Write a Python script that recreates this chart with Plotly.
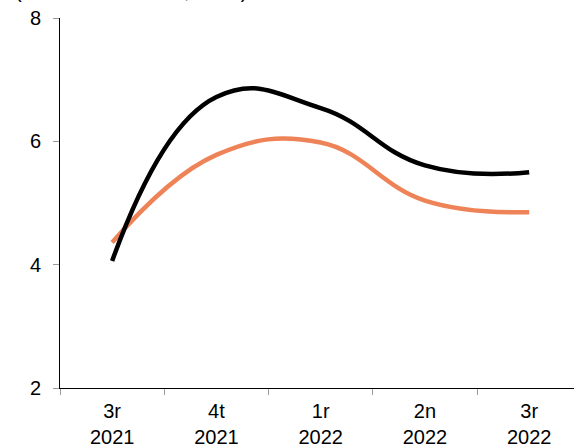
import plotly.graph_objects as go

categories = ["3r<br>2021", "4t<br>2021", "1r<br>2022", "2n<br>2022", "3r<br>2022"]
black_series = [4.06, 6.72, 6.54, 5.61, 5.50]
orange_series = [4.36, 5.78, 5.98, 5.04, 4.85]
y_ticks = [2, 4, 6, 8]
subtitle = "(variació interanual, en %)"

fig = go.Figure()
fig.add_trace(go.Scatter(x=categories, y=orange_series, mode="lines",
                         line=dict(color="#EE8358", width=4.5, shape="spline", smoothing=1.2),
                         showlegend=False))
fig.add_trace(go.Scatter(x=categories, y=black_series, mode="lines",
                         line=dict(color="#000000", width=4.5, shape="spline", smoothing=1.3),
                         showlegend=False))

fig.update_layout(
    width=574, height=448,
    margin=dict(l=60, r=0, t=17.5, b=60),
    paper_bgcolor="white", plot_bgcolor="white",
    font=dict(family="Liberation Sans, Arial, sans-serif", size=20, color="black"),
    xaxis=dict(type="category", range=[-0.5, 4.43], tickson="boundaries",
               showline=True, linecolor="black", linewidth=1,
               ticks="outside", ticklen=6, tickcolor="#999999", tickwidth=1,
               ticklabelstandoff=5, ticklabeloverflow="allow",
               showgrid=False, zeroline=False, fixedrange=True),
    yaxis=dict(range=[2, 8], tickvals=y_ticks, showline=True, linecolor="black", linewidth=1,
               ticks="outside", ticklen=6, tickcolor="#999999", tickwidth=1,
               ticklabelstandoff=8, ticklabeloverflow="allow",
               showgrid=False, zeroline=False, fixedrange=True),
    annotations=[dict(text=subtitle, xref="paper", yref="paper", x=-0.092, y=1.072,
                      xanchor="left", yanchor="middle", showarrow=False,
                      font=dict(size=20))],
)

fig.write_html("out.html", config={"displayModeBar": False},
               post_script="document.body.style.margin='0';")
